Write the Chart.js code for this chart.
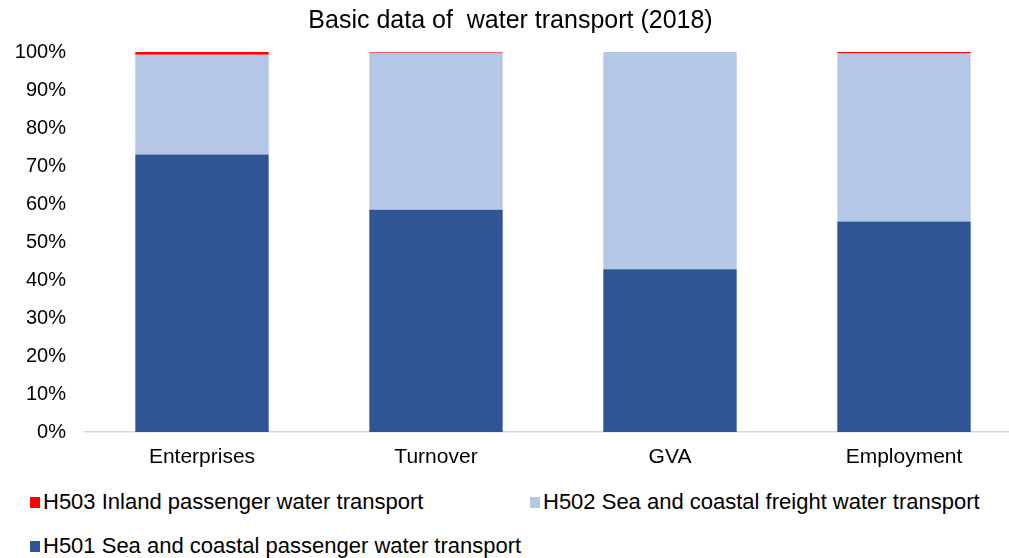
<!DOCTYPE html>
<html>
<head>
<meta charset="utf-8">
<script src="https://cdn.jsdelivr.net/npm/chart.js@4"></script>
<style>
    html, body { margin: 0; padding: 0; background: #fff; overflow: hidden; }
    #wrap { position: absolute; left: 0; top: 0; width: 1030px; height: 470px; }
    #legend {
        position: absolute; left: 30px; top: 490px; width: 980px;
        display: grid; grid-template-columns: 500px 480px; row-gap: 20px;
        font-family: "Liberation Sans", Arial, sans-serif; font-size: 22px; color: #000;
    }
    .item { display: flex; align-items: center; height: 24px; white-space: nowrap; }
    .box { width: 10px; height: 11px; margin-right: 3px; }
</style>
</head>
<body>
<div id="wrap"><canvas id="chart"></canvas></div>
<div id="legend"></div>
<script>
// Basic data of water transport (2018), shares in %
const categories = ['Enterprises', 'Turnover', 'GVA', 'Employment'];
const h501 = [73.0, 58.5, 42.8, 55.4];
const h502 = [26.3, 41.3, 57.2, 44.2];
const h503 = [0.7, 0.2, 0.0, 0.4];
const yTicks = [0, 10, 20, 30, 40, 50, 60, 70, 80, 90, 100];

const series = [
    { label: 'H501 Sea and coastal passenger water transport', data: h501, color: '#2F5597' },
    { label: 'H502 Sea and coastal freight water transport', data: h502, color: '#B4C7E7' },
    { label: 'H503 Inland passenger water transport', data: h503, color: '#FF0000' }
];

const font = "'Liberation Sans', Arial, sans-serif";

const chart = new Chart(document.getElementById('chart').getContext('2d'), {
    type: 'bar',
    data: {
        labels: categories,
        datasets: series.map(s => ({
            label: s.label,
            data: s.data,
            backgroundColor: s.color,
            borderWidth: 0,
            barPercentage: 0.57,
            categoryPercentage: 1
        }))
    },
    options: {
        responsive: true,
        maintainAspectRatio: false,
        animation: false,
        layout: { padding: { left: 0, right: 9, top: 0, bottom: 0 } },
        plugins: {
            legend: { display: false },
            tooltip: { enabled: false },
            title: {
                display: true,
                text: 'Basic data of  water transport (2018)',
                color: '#000',
                font: { family: font, size: 25, weight: 'normal' },
                padding: { top: 6, bottom: 16 }
            }
        },
        scales: {
            x: {
                stacked: true,
                afterFit: scale => { scale.height = 38; },
                grid: { display: false, drawTicks: false },
                border: { display: true, color: '#D9D9D9', width: 1.5 },
                ticks: { color: '#000', font: { family: font, size: 21 }, padding: 13 }
            },
            y: {
                stacked: true,
                min: 0,
                max: 100,
                afterFit: scale => { scale.width = 85; },
                afterBuildTicks: scale => { scale.ticks = yTicks.map(v => ({ value: v })); },
                grid: { display: false, drawTicks: false },
                border: { display: false },
                ticks: {
                    color: '#000',
                    font: { family: font, size: 20 },
                    padding: 19,
                    callback: v => v + '%'
                }
            }
        }
    }
});

// legend in the same order as the reference: H503, H502, H501
const legendEl = document.getElementById('legend');
[2, 1, 0].forEach(i => {
    const div = document.createElement('div');
    div.className = 'item';
    div.innerHTML = `<span class="box" style="background:${series[i].color}"></span>${series[i].label}`;
    legendEl.appendChild(div);
});
</script>
</body>
</html>
